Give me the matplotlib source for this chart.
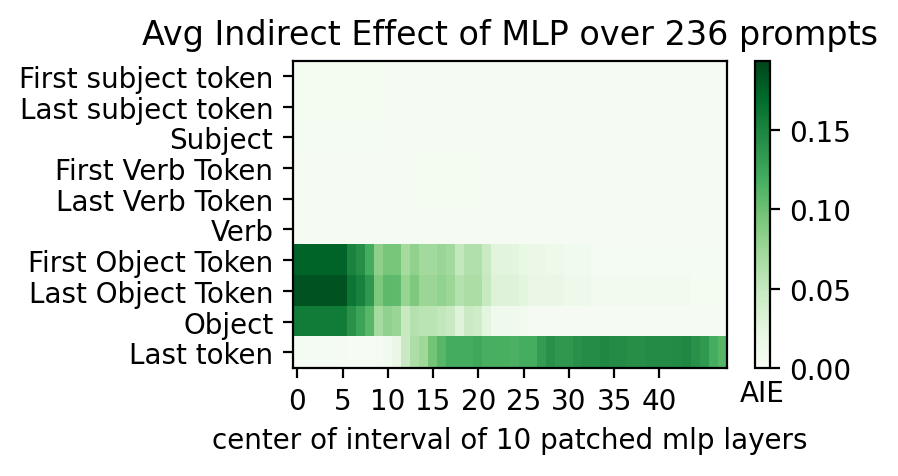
import matplotlib
matplotlib.use("Agg")
import matplotlib.pyplot as plt
import numpy as np

# token rows shown on the y axis (top to bottom)
labels = [
    "First subject token", "Last subject token", "Subject",
    "First Verb Token", "Last Verb Token", "Verb",
    "First Object Token", "Last Object Token", "Object", "Last token",
]

# average indirect effect per row, one value per window centre (0..47)
first_subj = [0.005] * 10 + [0.003] * 38
last_subj = [0.005] * 10 + [0.003] * 38
subject = [0.004] * 10 + [0.003] * 38
first_verb = [0.003] * 13 + [0.005] * 9 + [0.003] * 26
last_verb = [0.003] * 13 + [0.005] * 9 + [0.003] * 26
verb = [0.003] * 48
first_obj = ([0.175] * 6 +
             [0.151, 0.143, 0.120, 0.083, 0.095, 0.095, 0.070, 0.082, 0.072, 0.072,
              0.077, 0.072, 0.050, 0.062, 0.062, 0.047, 0.027, 0.027, 0.025, 0.019,
              0.016, 0.016, 0.012, 0.012, 0.008, 0.008, 0.008] +
             [0.004] * 15)
last_obj = ([0.185] * 6 +
            [0.161, 0.153, 0.136, 0.093, 0.108, 0.106, 0.078, 0.091, 0.076, 0.076,
             0.081, 0.075, 0.060, 0.066, 0.066, 0.049, 0.031, 0.031, 0.030, 0.025,
             0.018, 0.018, 0.018, 0.018, 0.012, 0.012, 0.012] +
            [0.007] * 11 + [0.005] * 4)
obj = ([0.158] * 6 +
       [0.140, 0.126, 0.110, 0.070, 0.082, 0.077, 0.048, 0.060, 0.056, 0.056,
        0.052, 0.048, 0.029, 0.047, 0.043, 0.025, 0.011, 0.011, 0.011, 0.007] +
       [0.003] * 22)
last_tok = [0.004, 0.004, 0.004, 0.004, 0.004, 0.003, 0.002, 0.002, 0.002, 0.004,
            0.009, 0.018, 0.048, 0.065, 0.074, 0.097, 0.110, 0.120, 0.120, 0.120,
            0.124, 0.118, 0.118, 0.118, 0.116, 0.119, 0.119, 0.132, 0.141, 0.136,
            0.136, 0.141, 0.144, 0.144, 0.149, 0.145, 0.145, 0.143, 0.143, 0.145,
            0.145, 0.145, 0.146, 0.149, 0.141, 0.134, 0.119, 0.111]

vmax = 0.1937
n_prompts = 236
window = 10

scores = np.array([first_subj, last_subj, subject, first_verb, last_verb, verb,
                   first_obj, last_obj, obj, last_tok])

fig = plt.figure(figsize=(4.49, 2.385), dpi=200)
ax = fig.add_axes([0.326, 0.2273, 0.484, 0.6434])
cax = fig.add_axes([0.8408, 0.2263, 0.0167, 0.6444])

h = ax.pcolor(scores, cmap="Greens", vmin=0, vmax=vmax)
ax.invert_yaxis()
ax.set_yticks([0.5 + i for i in range(len(labels))])
ax.set_yticklabels(labels)
ax.set_xticks([0.5 + i for i in range(0, scores.shape[1] - 6, 5)])
ax.set_xticklabels(list(range(0, scores.shape[1] - 6, 5)))
ax.set_title(f"Avg Indirect Effect of MLP over {n_prompts} prompts")
ax.set_xlabel(f"center of interval of {window} patched mlp layers")

cb = fig.colorbar(h, cax=cax)
cb.ax.set_title("AIE", y=-0.16, fontsize=10)

fig.savefig("out.png", dpi=200)
